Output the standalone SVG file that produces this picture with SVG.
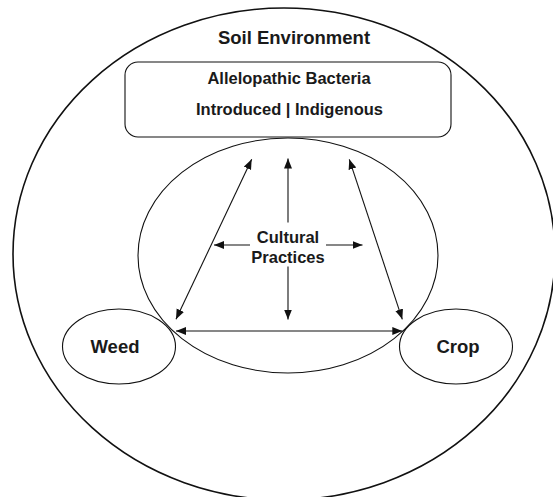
<svg xmlns="http://www.w3.org/2000/svg" width="553" height="497" viewBox="0 0 553 497">
<style>
.shape{fill:none;stroke:#111;stroke-width:1.1}
.outer{fill:none;stroke:#111;stroke-width:1.6}
.lbl{font-family:"Liberation Sans",Arial,Helvetica,sans-serif;font-weight:bold;fill:#1a1a1a;text-anchor:middle}
.conn{stroke:#111;stroke-width:1.1;fill:none}
</style>
<defs>
<marker id="ah" markerUnits="userSpaceOnUse" markerWidth="11" markerHeight="9" refX="10" refY="4" orient="auto-start-reverse">
<path d="M0,0 L10,4 L0,8 z" fill="#111"/>
</marker>
</defs>
<rect width="553" height="497" fill="#fff"/>
<g id="soil-environment">
<ellipse class="outer" cx="284" cy="254" rx="271" ry="246"/>
<text class="lbl" x="294" y="44" font-size="18.5">Soil Environment</text>
</g>
<g id="allelopathic-bacteria">
<rect class="shape" x="125" y="62" width="326" height="75" rx="13" ry="13"/>
<text class="lbl" x="289" y="83.5" font-size="16.5">Allelopathic Bacteria</text>
<text class="lbl" x="289.5" y="115" font-size="16.5">Introduced | Indigenous</text>
</g>
<g id="cultural-practices">
<ellipse class="shape" cx="288" cy="255.5" rx="150" ry="117.5"/>
<text class="lbl" x="288" y="243" font-size="16.5">Cultural</text>
<text class="lbl" x="288" y="263" font-size="16.5">Practices</text>
</g>
<g id="weed">
<ellipse class="shape" cx="119" cy="346.5" rx="56.5" ry="37.5"/>
<text class="lbl" x="115" y="353" font-size="18.5">Weed</text>
</g>
<g id="crop">
<ellipse class="shape" cx="456" cy="346.5" rx="56.5" ry="37.5"/>
<text class="lbl" x="458" y="353" font-size="18.5">Crop</text>
</g>
<g id="connectors">
<line class="conn" x1="288" y1="222.5" x2="288" y2="158.5" marker-end="url(#ah)"/>
<line class="conn" x1="288" y1="266.5" x2="288" y2="319.5" marker-end="url(#ah)"/>
<line class="conn" x1="250" y1="245" x2="214" y2="245" marker-end="url(#ah)"/>
<line class="conn" x1="326" y1="245" x2="362.5" y2="245" marker-end="url(#ah)"/>
<line class="conn" x1="251.7" y1="159.3" x2="176" y2="319.3" marker-start="url(#ah)" marker-end="url(#ah)"/>
<line class="conn" x1="349.3" y1="159.3" x2="402.3" y2="319.3" marker-start="url(#ah)" marker-end="url(#ah)"/>
<line class="conn" x1="176" y1="331" x2="402.3" y2="331" marker-start="url(#ah)" marker-end="url(#ah)"/>
</g>
</svg>
